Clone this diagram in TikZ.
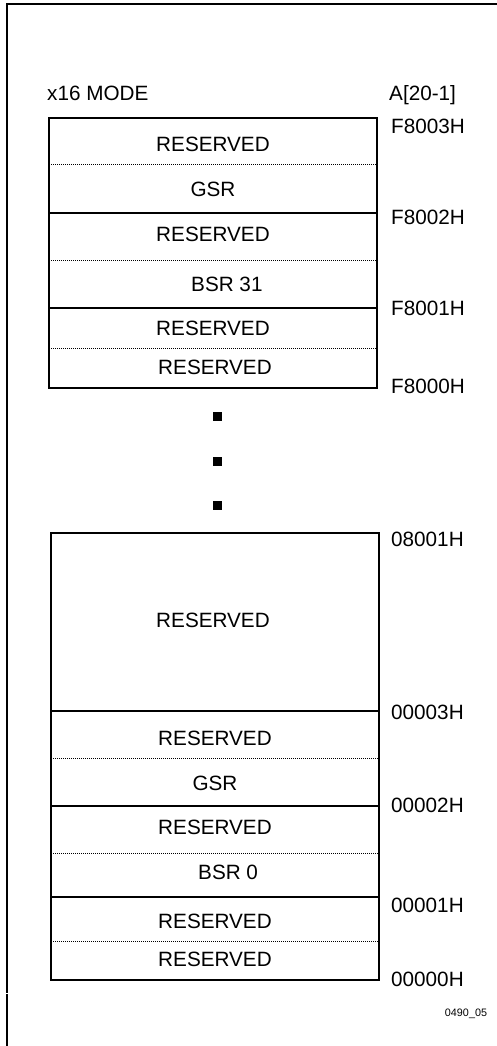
\documentclass[tikz,border=0pt]{standalone}
\usepackage{fontspec}
\setmainfont{Liberation Sans}
\begin{document}
\begin{tikzpicture}[x=1pt,y=-1pt,
  lbl/.style={inner sep=0pt, text height=15pt, text depth=0pt, font=\fontsize{20.7}{24}\selectfont},
  addr/.style={lbl, anchor=west},
  boxline/.style={line width=1.4pt},
  dotline/.style={line width=0.9pt, dash pattern=on 0.9pt off 1.1pt},
  frameline/.style={line width=1.8pt},
  dotmark/.style={fill=black, inner sep=0pt, minimum width=9pt, minimum height=8.5pt}]
\useasboundingbox (0,0) rectangle (497,1046);
% frame
\coordinate (fa) at (7,1046);
\coordinate (fb) at (7,4);
\coordinate (fc) at (497,4);
\coordinate (fd) at (7,992.5);
\coordinate (fe) at (7,994);
\draw[frameline] (fd) -- (fb) -- (fc);
\draw[frameline] (fe) -- (fa);
% headers
\node[lbl, anchor=west] (mode) at (47,93) {x16 MODE};
\node[lbl, anchor=west] (abus) at (389,93) {A[20-1]};
% top box
\coordinate (t0l) at (49,118); \coordinate (t0r) at (377,118);
\coordinate (t1l) at (49,164); \coordinate (t1r) at (377,164);
\coordinate (t2l) at (49,213); \coordinate (t2r) at (377,213);
\coordinate (t3l) at (49,260); \coordinate (t3r) at (377,260);
\coordinate (t4l) at (49,308); \coordinate (t4r) at (377,308);
\coordinate (t5l) at (49,348); \coordinate (t5r) at (377,348);
\coordinate (t6l) at (49,388); \coordinate (t6r) at (377,388);
\draw[boxline] (t0l) rectangle (t6r);
\draw[boxline] (t2l) -- (t2r);
\draw[boxline] (t4l) -- (t4r);
\draw[dotline] (t1l) -- (t1r);
\draw[dotline] (t3l) -- (t3r);
\draw[dotline] (t5l) -- (t5r);
\node[lbl] (ta) at (213,144) {RESERVED};
\node[lbl] (tb) at (213,189) {GSR};
\node[lbl] (tc) at (213,234) {RESERVED};
\node[lbl, anchor=west] (td) at (191,284) {BSR 31};
\node[lbl] (te) at (213,328) {RESERVED};
\node[lbl] (tf) at (215,367) {RESERVED};
\node[addr] (a1) at (391,126) {F8003H};
\node[addr] (a2) at (391,217) {F8002H};
\node[addr] (a3) at (391,308) {F8001H};
\node[addr] (a4) at (391,386) {F8000H};
% ellipsis squares
\node[dotmark] (d1) at (217,416.5) {};
\node[dotmark] (d2) at (217,461.5) {};
\node[dotmark] (d3) at (217,505.5) {};
% bottom box
\coordinate (b0l) at (51,533); \coordinate (b0r) at (379,533);
\coordinate (b1l) at (51,711); \coordinate (b1r) at (379,711);
\coordinate (b2l) at (51,758); \coordinate (b2r) at (379,758);
\coordinate (b3l) at (51,806); \coordinate (b3r) at (379,806);
\coordinate (b4l) at (51,853); \coordinate (b4r) at (379,853);
\coordinate (b5l) at (51,897); \coordinate (b5r) at (379,897);
\coordinate (b6l) at (51,941); \coordinate (b6r) at (379,941);
\coordinate (b7l) at (51,980); \coordinate (b7r) at (379,980);
\draw[boxline] (b0l) rectangle (b7r);
\draw[boxline] (b1l) -- (b1r);
\draw[boxline] (b3l) -- (b3r);
\draw[boxline] (b5l) -- (b5r);
\draw[dotline] (b2l) -- (b2r);
\draw[dotline] (b4l) -- (b4r);
\draw[dotline] (b6l) -- (b6r);
\node[lbl] (ba) at (213,620) {RESERVED};
\node[lbl] (bb) at (215,738) {RESERVED};
\node[lbl] (bc) at (215,783) {GSR};
\node[lbl] (bd) at (215,827) {RESERVED};
\node[lbl, anchor=west] (be) at (198,872) {BSR 0};
\node[lbl] (bf) at (215,921) {RESERVED};
\node[lbl] (bg) at (215,959) {RESERVED};
\node[addr] (c1) at (391,539) {08001H};
\node[addr] (c2) at (391,712) {00003H};
\node[addr] (c3) at (391,805) {00002H};
\node[addr] (c4) at (391,905) {00001H};
\node[addr] (c5) at (391,979) {00000H};
% figure id
\node[inner sep=0pt, text height=7.8pt, text depth=0pt, font=\fontsize{10.8}{12}\selectfont] (fig) at (466,1012.5) {0490\_05};
\end{tikzpicture}
\end{document}
